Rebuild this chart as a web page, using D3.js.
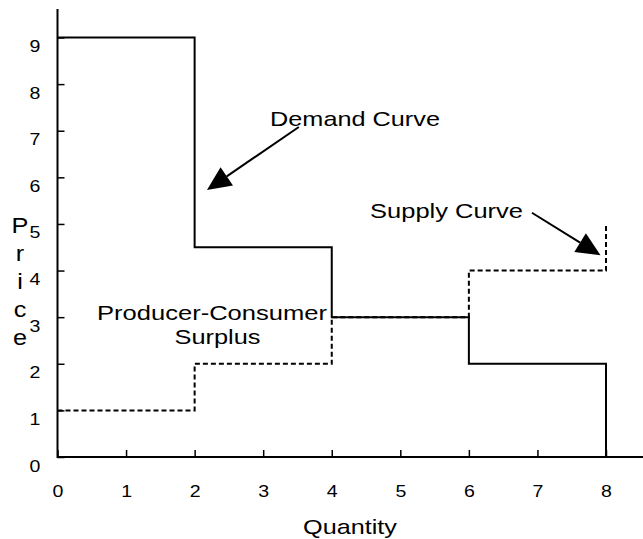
<!DOCTYPE html>
<html>
<head>
<meta charset="utf-8">
<script src="https://cdn.jsdelivr.net/npm/d3@7"></script>
<style>
  body { margin: 0; background: #fff; }
  svg { display: block; font-family: "Liberation Sans", Arial, sans-serif; }
</style>
</head>
<body>
<div id="plot"></div>
<script>
// Step curves (quantity, price)
const demandQ = [0, 2, 2, 4, 4, 6, 6, 8, 8];
const demandP = [9, 9, 4.5, 4.5, 3, 3, 2, 2, 0];
const supplyQ = [0, 2, 2, 4, 4, 6, 6, 8, 8];
const supplyP = [1, 1, 2, 2, 3, 3, 4, 4, 5];

// Tick labels
const xTicks = [0, 1, 2, 3, 4, 5, 6, 7, 8];
const yTicks = [0, 1, 2, 3, 4, 5, 6, 7, 8, 9];
const yTitle = ["P", "r", "i", "c", "e"];

const w = 643;
const h = 539;

const svg = d3.select("div#plot")
  .append("svg")
  .attr("width", w)
  .attr("height", h);

// Scales
const x = d3.scaleLinear().domain([0, 8]).range([57.5, 606]);
const y = d3.scaleLinear().domain([0, 9]).range([457, 37.5]);

// Axes (ticks point inward)
const xAxis = svg.append("g")
  .attr("transform", `translate(0, ${y(0)})`)
  .call(d3.axisBottom(x).tickValues(xTicks).tickSize(-7).tickFormat(d3.format("d")));
const yAxis = svg.append("g")
  .attr("transform", `translate(${x(0)}, 0)`)
  .call(d3.axisLeft(y).tickValues(yTicks).tickSize(-7).tickFormat(d3.format("d")));

[xAxis, yAxis].forEach(a => {
  a.select(".domain").remove();
  a.selectAll("line").attr("stroke", "#000").attr("stroke-width", 1.5);
  a.selectAll("text")
    .attr("font-family", "Liberation Sans, Arial, sans-serif")
    .attr("font-size", 17)
    .attr("fill", "#000")
    .attr("text-anchor", "middle");
});
xAxis.selectAll("text").attr("y", 0).attr("dy", null)
  .attr("transform", "translate(0,497) scale(1.15,1)".replace("497", 497 - y(0)));
yAxis.selectAll("text").attr("x", 0).attr("y", 0).attr("dy", null)
  .attr("transform", `translate(${35 - x(0)},14) scale(1.15,1)`);

// Axis lines
svg.append("line")
  .attr("x1", x(0)).attr("x2", w)
  .attr("y1", y(0)).attr("y2", y(0))
  .attr("stroke", "#000").attr("stroke-width", 2);
svg.append("line")
  .attr("x1", x(0)).attr("x2", x(0))
  .attr("y1", y(0) + 1).attr("y2", 9)
  .attr("stroke", "#000").attr("stroke-width", 2);

// Curves
const line = d3.line()
  .x(d => x(d[0]))
  .y(d => y(d[1]));

svg.append("path")
  .datum(d3.zip(supplyQ, supplyP))
  .attr("fill", "none")
  .attr("stroke", "#000")
  .attr("stroke-width", 2)
  .attr("stroke-dasharray", "5,3")
  .attr("d", line);

svg.append("path")
  .datum(d3.zip(demandQ, demandP))
  .attr("fill", "none")
  .attr("stroke", "#000")
  .attr("stroke-width", 2)
  .attr("d", line);

// Arrows
function arrow(q1, p1, q2, p2) {
  const x1 = x(q1), y1 = y(p1), x2 = x(q2), y2 = y(p2);
  const ang = Math.atan2(y2 - y1, x2 - x1);
  const len = 24, half = 11;
  const bx = x2 - len * Math.cos(ang), by = y2 - len * Math.sin(ang);
  svg.append("line")
    .attr("x1", x1).attr("y1", y1).attr("x2", bx).attr("y2", by)
    .attr("stroke", "#000").attr("stroke-width", 2);
  const pts = [
    [x2, y2],
    [bx + half * Math.sin(ang), by - half * Math.cos(ang)],
    [bx - half * Math.sin(ang), by + half * Math.cos(ang)]
  ];
  svg.append("polygon")
    .attr("points", pts.map(p => p.join(",")).join(" "))
    .attr("fill", "#000");
}
arrow(3.52, 7.08, 2.18, 5.73);
arrow(6.92, 5.24, 7.92, 4.33);

// Labels: stretched horizontally to the reference width
function label(txt, cx, baseline, width, size) {
  const t = svg.append("text")
    .attr("x", 0)
    .attr("y", 0)
    .attr("font-size", size)
    .attr("text-anchor", "middle")
    .text(txt);
  const k = width / t.node().getComputedTextLength();
  t.attr("transform", `translate(${cx},${baseline}) scale(${k},1)`);
}
label("Demand Curve", 355, 126, 170, 21);
label("Supply Curve", 446.5, 218, 153, 20);
label("Producer-Consumer", 212, 320, 230, 21);
label("Surplus", 217.5, 344, 86, 21);
label("Quantity", 350, 534, 94, 20);

svg.append("g")
  .selectAll("text")
  .data(yTitle)
  .enter().append("text")
  .attr("x", 0)
  .attr("y", 0)
  .attr("text-anchor", "middle")
  .attr("font-size", 22)
  .attr("transform", (d, i) => `translate(20,${233 + i * 28}) scale(1.15,1)`)
  .text(d => d);
</script>
</body>
</html>
